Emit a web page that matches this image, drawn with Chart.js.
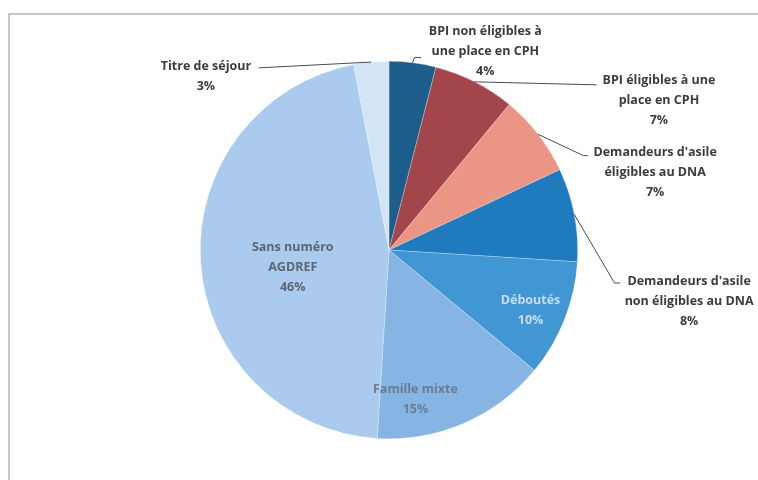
<!DOCTYPE html>
<html>
<head>
<meta charset="utf-8">
<script src="https://cdn.jsdelivr.net/npm/chart.js@4.4.0/dist/chart.umd.min.js"></script>
<style>
    html, body { margin: 0; padding: 0; background: #fff; }
    #wrap { position: relative; width: 758px; height: 480px; overflow: hidden; }
    #frame { position: absolute; left: 8px; top: 13px; width: 760px; height: 480px;
        border-top: 2px solid #c6c6c6; border-left: 2px solid #c6c6c6; }
    canvas { position: absolute; left: 0; top: 0; }
</style>
</head>
<body>
<div id="wrap">
    <div id="frame"></div>
    <canvas id="myChart" width="758" height="480"></canvas>
</div>
<script>
// categories, clockwise from 12 o'clock
const categories = [
    ["BPI non éligibles à", "une place en CPH"],
    ["BPI éligibles à une", "place en CPH"],
    ["Demandeurs d'asile", "éligibles au DNA"],
    ["Demandeurs d'asile", "non éligibles au DNA"],
    ["Déboutés"],
    ["Famille mixte"],
    ["Sans numéro", "AGDREF"],
    ["Titre de séjour"]
];
const shares = [4, 7, 7, 8, 10, 15, 46, 3];
const sliceColors = ["#1d5d8c", "#a3464c", "#eb9585", "#1f7bbd", "#4196d4", "#86b4e3", "#abcbee", "#d2e4f6"];

// label anchors, in pie radius units from the centre
const labelPos = [
    [0.51, -1.05], [1.43, -0.79], [1.41, -0.41], [1.59, 0.27],
    [0.75, 0.32], [0.14, 0.79], [-0.51, 0.09], [-0.97, -0.92]
];
// leader lines (null = label sits inside the slice)
const leaders = [
    [[0.135, -1.02], [0.17, -1.02]],
    [[1.10, -0.875]],
    [[1.03, -0.50], [1.055, -0.50]],
    [[1.195, 0.175], [1.225, 0.175]],
    null, null, null,
    [[-0.69, -0.965]]
];
const textColors = ["#3c3c3c", "#3c3c3c", "#3c3c3c", "#3c3c3c", "#c9dcef", "#6a7d92", "#5d6670", "#3c3c3c"];

const pieLabels = {
    id: "pieLabels",
    afterDatasetsDraw(chart) {
        const ctx = chart.ctx;
        const arcs = chart.getDatasetMeta(0).data;
        ctx.save();
        ctx.font = "bold 12.5px 'Open Sans'";
        ctx.textAlign = "center";
        ctx.textBaseline = "middle";
        arcs.forEach((arc, i) => {
            const p = arc.getProps(["x", "y", "startAngle", "endAngle", "outerRadius"], true);
            const r = p.outerRadius;
            const mid = (p.startAngle + p.endAngle) / 2;
            if (leaders[i]) {
                ctx.strokeStyle = "#4a4a4a";
                ctx.lineWidth = 1;
                ctx.beginPath();
                ctx.moveTo(p.x + Math.cos(mid) * r, p.y + Math.sin(mid) * r);
                leaders[i].forEach(pt => ctx.lineTo(p.x + pt[0] * r, p.y + pt[1] * r));
                ctx.stroke();
            }
            const lines = categories[i].concat([shares[i] + "%"]);
            const lx = p.x + labelPos[i][0] * r;
            const ly = p.y + labelPos[i][1] * r;
            ctx.fillStyle = textColors[i];
            lines.forEach((t, k) => {
                ctx.fillText(t, lx, ly + (k - (lines.length - 1) / 2) * 20);
            });
        });
        ctx.restore();
    }
};

const chart = new Chart(document.getElementById("myChart"), {
    type: "pie",
    data: {
        labels: categories.map(c => c.join(" ")),
        datasets: [{
            data: shares,
            backgroundColor: sliceColors,
            borderColor: "rgba(255,255,255,0.5)",
            borderWidth: 0.5
        }]
    },
    options: {
        responsive: false,
        animation: false,
        layout: { padding: { top: 61, bottom: 41, left: 200, right: 180 } },
        plugins: {
            legend: { display: false },
            tooltip: { enabled: false }
        }
    },
    plugins: [pieLabels]
});
</script>
</body>
</html>
